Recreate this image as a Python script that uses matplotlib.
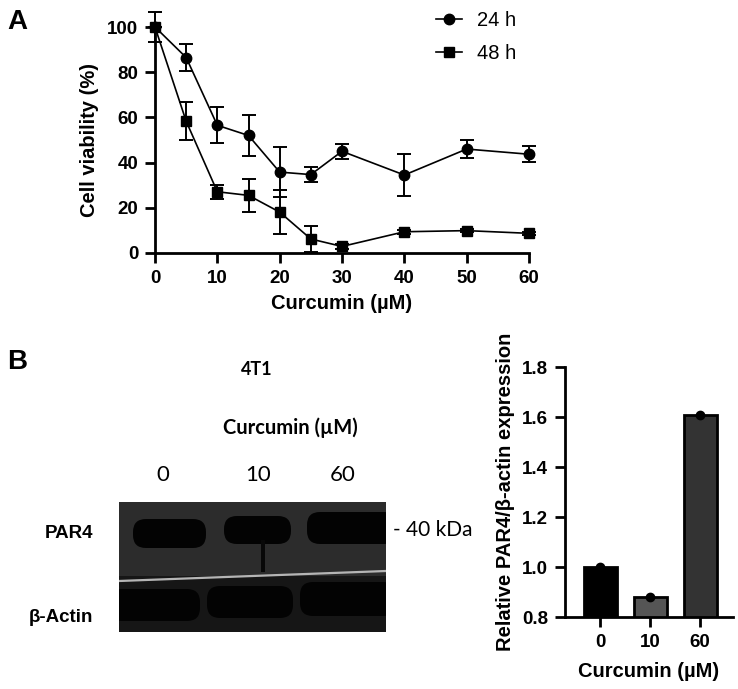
import numpy as np
import matplotlib as mpl
mpl.use('Agg')
import matplotlib.pyplot as plt
from matplotlib.lines import Line2D
from matplotlib.patches import Rectangle, FancyBboxPatch
import matplotlib.ticker as mTicker

# ---- data: panel A, cell viability ----
dose = [0, 5, 10, 15, 20, 25, 30, 40, 50, 60]
via24 = [100, 86.5, 56.5, 52, 35.8, 34.7, 45, 34.5, 46, 43.7]
err24 = [0, 6, 8, 9, 11.2, 3.5, 3.4, 9.2, 4, 3.5]
via48 = [100, 58.3, 27.1, 25.5, 18.1, 6.2, 2.9, 9.4, 9.9, 8.7]
err48 = [6.5, 8.3, 3.2, 7.4, 9.7, 5.6, 1.0, 0.8, 0.8, 0.8]
xTicksA = [0, 10, 20, 30, 40, 50, 60]
yTicksA = [0, 20, 40, 60, 80, 100]

# ---- data: panel B, relative expression ----
lanes = ['0', '10', '60']
relExp = [1.0, 0.88, 1.61]
barColors = ['#000000', '#555555', '#333333']
yTicksB = [0.8, 1.0, 1.2, 1.4, 1.6, 1.8]

W, H = 738, 689
mpl.rcParams['font.family'] = ['Liberation Sans', 'DejaVu Sans']
mpl.rcParams['axes.linewidth'] = 2.0
fig = plt.figure(figsize=(W / 100, H / 100), dpi=100)


def pxAxes(l, t, r, b):
    # axes from pixel box (left, top, right, bottom)
    return fig.add_axes([l / W, 1 - b / H, (r - l) / W, (b - t) / H])


def pxText(x, y, s, **kw):
    kw.setdefault('va', 'center')
    fig.text(x / W, 1 - y / H, s, **kw)


# ---------------- panel A ----------------
ax = pxAxes(155, 27, 529, 253)
ax.errorbar(dose, via24, yerr=err24, color='k', lw=1.2, marker='o', ms=7.5,
            capsize=5, elinewidth=1.4, capthick=1.4, clip_on=False, zorder=3)
ax.errorbar(dose, via48, yerr=err48, color='k', lw=1.2, marker='s', ms=7.5,
            capsize=5, elinewidth=1.4, capthick=1.4, clip_on=False, zorder=3)
ax.set_xlim(0, 60)
ax.set_ylim(0, 100)
ax.set_xticks(xTicksA)
ax.set_yticks(yTicksA)
for s in ['top', 'right']:
    ax.spines[s].set_visible(False)
ax.tick_params(direction='out', length=7, width=2, labelsize=13.5, pad=5)
for lb in ax.get_xticklabels() + ax.get_yticklabels():
    lb.set_fontweight('bold')
ax.set_xlabel('Curcumin (µM)', fontsize=14.5, fontweight='bold', labelpad=5)
ax.set_ylabel('Cell viability (%)', fontsize=14.5, fontweight='bold', labelpad=6)

hA = [Line2D([], [], color='k', lw=1.2, marker='o', ms=7.5),
      Line2D([], [], color='k', lw=1.2, marker='s', ms=7.5)]
fig.legend(hA, ['24 h', '48 h'], loc='upper left',
           bbox_to_anchor=(436 / W, 1 - 11 / H), frameon=False, fontsize=14.5,
           handlelength=1.3, handletextpad=0.75, labelspacing=0.7,
           borderpad=0, borderaxespad=0)

pxText(17, 22, 'A', fontsize=20, fontweight='bold', ha='center')
pxText(17, 362, 'B', fontsize=20, fontweight='bold', ha='center')

# ---------------- panel B, blot ----------------
bx = pxAxes(119, 502, 386, 632)
bx.set_xlim(119, 386)
bx.set_ylim(632, 502)
bx.axis('off')
bx.add_patch(Rectangle((119, 502), 267, 76, color='#2c2c2c', lw=0))
bx.add_patch(Rectangle((119, 576), 267, 56, color='#161616', lw=0))
par4Bands = [(136, 522, 67, 23), (227, 519, 61, 22), (310, 515, 84, 26)]
actinBands = [(112, 592, 85, 26), (210, 589, 80, 26), (303, 585, 90, 28)]
for (x0, y0, w, h) in par4Bands + actinBands:
    bx.add_patch(FancyBboxPatch((x0, y0), w, h,
                                boxstyle='round,pad=3,rounding_size=13',
                                fc='#030303', ec='none'))
bx.add_patch(Rectangle((261, 540), 4, 32, color='#080808', lw=0))
bx.plot([119, 386], [581, 571], color='#b5b5b5', lw=1.6)

pxText(93, 533, 'PAR4', fontsize=13.5, fontweight='bold', ha='right')
pxText(93, 618, 'β-Actin', fontsize=13.5, fontweight='bold', ha='right')
pxText(257, 369, '4T1', fontsize=13, fontweight='bold', ha='center', family='Lato')
pxText(290, 428, 'Curcumin (µM)', fontsize=14.5, fontweight='bold', ha='center', family='Lato')
for xl, lb in zip([163, 258, 343], lanes):
    pxText(xl, 475, lb, fontsize=16, ha='center', family='Lato')
pxText(393, 530, '- 40 kDa', fontsize=15, ha='left', family='Lato')

# ---------------- panel B, bars ----------------
cx = pxAxes(565, 367, 733, 617)
xb = np.arange(len(lanes))
cx.bar(xb, relExp, width=0.66, color=barColors, edgecolor='k', lw=2, zorder=2)
cx.plot(xb, relExp, 'o', color='k', ms=6, zorder=3, clip_on=False)
cx.set_xlim(-0.7, 2.66)
cx.set_ylim(0.8, 1.8)
cx.set_yticks(yTicksB)
cx.yaxis.set_major_formatter(mTicker.FormatStrFormatter('%.1f'))
cx.set_xticks(xb)
cx.set_xticklabels(lanes)
for s in ['top', 'right']:
    cx.spines[s].set_visible(False)
cx.tick_params(direction='out', length=7, width=2, labelsize=13.5, pad=5)
for lb in cx.get_xticklabels() + cx.get_yticklabels():
    lb.set_fontweight('bold')
cx.set_xlabel('Curcumin (µM)', fontsize=14.5, fontweight='bold', labelpad=8)
cx.set_ylabel('Relative PAR4/β-actin expression', fontsize=14.5,
              fontweight='bold', labelpad=5)

fig.savefig('out.png', dpi=100)
